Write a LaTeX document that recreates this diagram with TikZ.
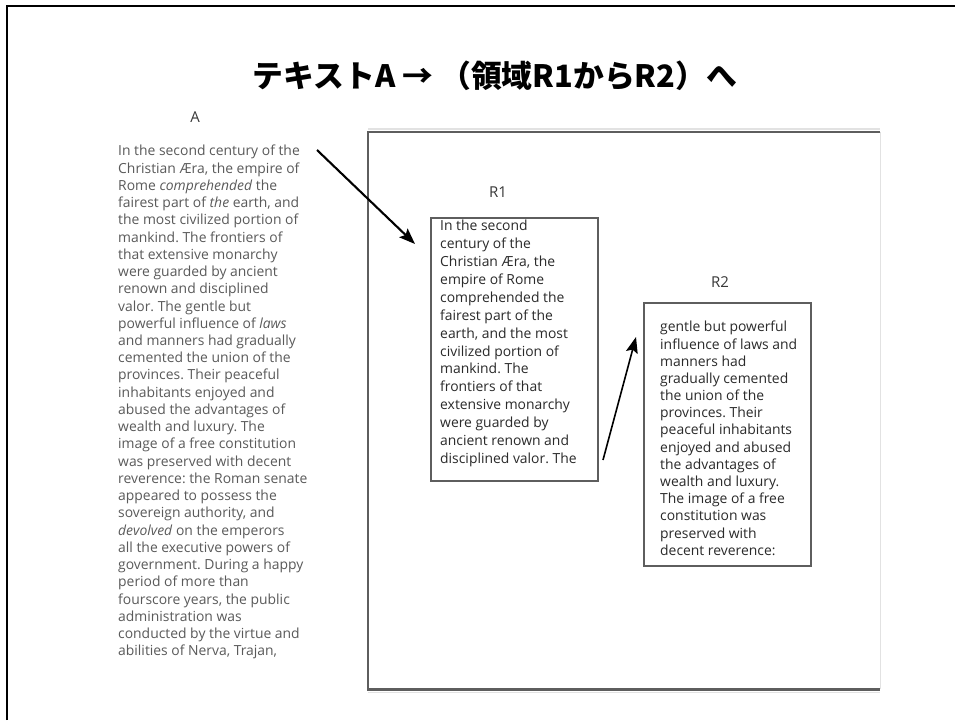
\documentclass[tikz,border=0pt]{standalone}
\usepackage{fontspec}
\setmainfont{Open Sans}
\newfontfamily\cjk{Noto Sans CJK JP}
\usetikzlibrary{arrows.meta}
\definecolor{edgegray}{HTML}{5E5E5E}
\definecolor{lightedge}{HTML}{E2E2E2}
\definecolor{atext}{HTML}{5A5A5A}
\definecolor{rtext}{HTML}{2A2A2A}
\frenchspacing
\begin{document}
\begin{tikzpicture}[x=1pt,y=-1pt,
  bodyA/.style={anchor=north west, inner sep=0pt, align=left, text=atext,
    font=\fontsize{13.9}{17.24}\selectfont},
  bodyR/.style={anchor=north west, inner sep=0pt, align=left, text=rtext,
    font=\fontsize{13.9}{17.9}\selectfont},
  lbl/.style={inner sep=0pt, text=black!78, font=\fontsize{15}{17}\selectfont},
  rbox/.style={draw=edgegray, line width=2.2pt, anchor=north west, inner sep=0pt,
    minimum width=167pt, minimum height=263pt},
  arr/.style={-{Stealth[length=16pt,width=12pt,inset=3pt]}, line width=2.1pt, black},
]
\useasboundingbox (0,0) rectangle (955,720);
\fill[white] (0,0) rectangle (955,720);
% outer frame
\draw[line width=2.2pt] (7,720) -- (7,6) -- (955,6);

% title
\node[font=\cjk\bfseries\fontsize{30.8}{34}\selectfont] (title) at (495,76)
  {テキストA → （領域R1からR2）へ};

% label A and text A
\node[lbl] (labA) at (195,117) {A};
\node[bodyA] (Atext) at (118,145) {In the second century of the\\
Christian Æra, the empire of\\
Rome \textit{comprehended} the\\
fairest part of \textit{the} earth, and\\
the most civilized portion of\\
mankind. The frontiers of\\
that extensive monarchy\\
were guarded by ancient\\
renown and disciplined\\
valor. The gentle but\\
powerful influence of \textit{laws}\\
and manners had gradually\\
cemented the union of the\\
provinces. Their peaceful\\
inhabitants enjoyed and\\
abused the advantages of\\
wealth and luxury. The\\
image of a free constitution\\
was preserved with decent\\
reverence: the Roman senate\\
appeared to possess the\\
sovereign authority, and\\
\textit{devolved} on the emperors\\
all the executive powers of\\
government. During a happy\\
period of more than\\
fourscore years, the public\\
administration was\\
conducted by the virtue and\\
abilities of Nerva, Trajan,};

% page
\node[anchor=north west, inner sep=0pt, minimum width=512pt, minimum height=557pt] (page) at (368,132) {};
\draw[lightedge, line width=1.5pt] (page.north east) -- (page.south east);
\draw[lightedge, line width=1.5pt] ([yshift=3pt]page.north west) -- ([yshift=3pt]page.north east);
\draw[lightedge, line width=1.5pt] ([yshift=-3pt]page.south west) -- ([yshift=-3pt]page.south east);
\draw[edgegray, line width=2.2pt] (page.north east) -- (page.north west) -- (page.south west) -- (page.south east);

% R1
\node[lbl] (labR1) at (498,192) {R1};
\node[rbox] (R1) at (430,217) {};
\node[bodyR] (R1text) at (440,220) {In the second\\
century of the\\
Christian Æra, the\\
empire of Rome\\
comprehended the\\
fairest part of the\\
earth, and the most\\
civilized portion of\\
mankind. The\\
frontiers of that\\
extensive monarchy\\
were guarded by\\
ancient renown and\\
disciplined valor. The};

% R2
\node[lbl] (labR2) at (720,282) {R2};
\node[rbox] (R2) at (643,302) {};
\node[bodyR, font=\fontsize{13.9}{17.18}\selectfont] (R2text) at (660,321) {gentle but powerful\\
influence of laws and\\
manners had\\
gradually cemented\\
the union of the\\
provinces. Their\\
peaceful inhabitants\\
enjoyed and abused\\
the advantages of\\
wealth and luxury.\\
The image of a free\\
constitution was\\
preserved with\\
decent reverence:};

% arrows
\coordinate (a1s) at (317,150);
\coordinate (a1e) at (415,244);
\coordinate (a2s) at (603,460);
\coordinate (a2e) at (636,337);
\draw[arr] (a1s) -- (a1e);
\draw[arr, line width=1.6pt] (a2s) -- (a2e);
\end{tikzpicture}
\end{document}
